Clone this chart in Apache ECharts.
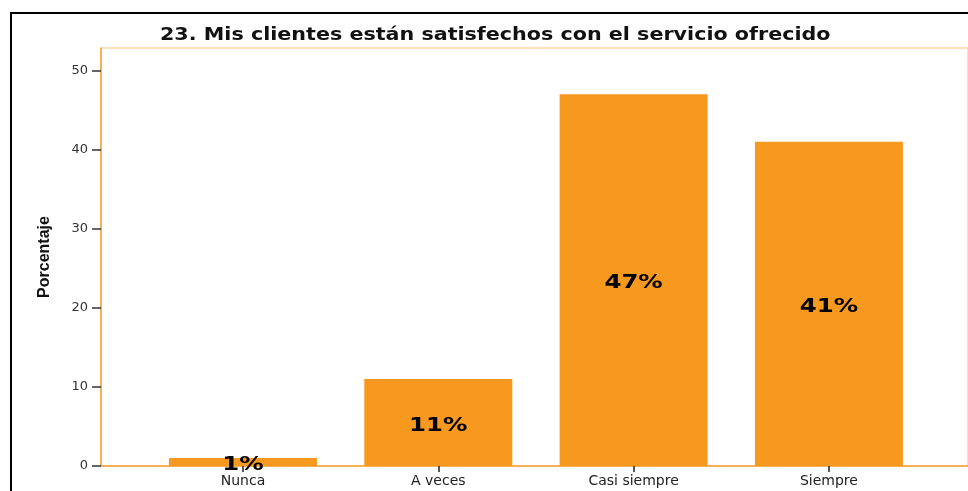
<!DOCTYPE html>
<html>
<head>
<meta charset="utf-8">
<script src="https://cdn.jsdelivr.net/npm/echarts@6/dist/echarts.min.js"></script>
<style>
  html, body { margin: 0; padding: 0; background: #fff; }
  #chart { width: 968px; height: 491px; }
</style>
</head>
<body>
<div id="chart"></div>
<script>
// Responses to item 23 (percentage of respondents)
const categories = ['Nunca', 'A veces', 'Casi siempre', 'Siempre'];
const percentages = [1, 11, 47, 41];
const yTicks = [0, 10, 20, 30, 40, 50];

const TITLE = '23. Mis clientes están satisfechos con el servicio ofrecido';
const Y_NAME = 'Porcentaje';

const BAR = '#F7991F';
const FRAME = '#F9C27C';
const AXIS = '#F5A030';
const FRAME_MAX = 52.84;   // frame top sits a little above the 50 tick

const chart = echarts.init(document.getElementById('chart'));

chart.setOption({
  animation: false,
  backgroundColor: '#fff',
  graphic: [
    {
      type: 'rect',
      shape: { x: 11, y: 13, width: 1200, height: 1000 },
      style: { fill: 'none', stroke: '#000', lineWidth: 2 },
      z: 100
    },
    {
      type: 'text',
      x: 160,
      y: 27,
      scaleX: 1.215,
      style: {
        text: TITLE,
        font: 'bold 17px "DejaVu Sans"',
        fill: '#111'
      },
      z: 100
    }
  ],
  grid: [
    // plot frame: orange border plus the y axis line and name
    { left: 101, top: 48, right: -10, bottom: 25, show: true, borderColor: FRAME, borderWidth: 1, containLabel: false },
    // bar area: scale runs 0..50 with 50 at the top
    { left: 145.3, width: 781.3, top: 70.5, bottom: 25, containLabel: false }
  ],
  xAxis: [
    {
      gridIndex: 0,
      type: 'category',
      data: categories,
      axisLine: { show: true, lineStyle: { color: AXIS, width: 1.5 } },
      axisTick: { show: false },
      axisLabel: { show: false },
      splitLine: { show: false }
    },
    {
      gridIndex: 1,
      type: 'category',
      data: categories,
      axisLine: { show: false },
      axisTick: { show: true, alignWithLabel: true, length: 6, lineStyle: { color: '#222', width: 1.5 } },
      axisLabel: { color: '#222', fontFamily: 'DejaVu Sans', fontSize: 14, margin: 8 },
      splitLine: { show: false }
    }
  ],
  yAxis: [
    {
      gridIndex: 0,
      type: 'value',
      min: 0,
      max: FRAME_MAX,
      name: Y_NAME,
      nameLocation: 'middle',
      nameGap: 48,
      nameTextStyle: { fontFamily: 'Liberation Sans', fontWeight: 'bold', fontSize: 16, color: '#111' },
      axisLine: { show: true, lineStyle: { color: AXIS, width: 1.5 } },
      axisTick: { show: false },
      axisLabel: { show: false },
      splitLine: { show: false }
    },
    {
      gridIndex: 1,
      type: 'value',
      min: 0,
      max: 50,
      interval: 10,
      offset: 44.3,
      axisLine: { show: false },
      axisTick: { show: true, inside: false, length: 9, lineStyle: { color: '#333', width: 1.5 } },
      axisLabel: {
        color: '#333',
        fontFamily: 'DejaVu Sans',
        fontSize: 13,
        margin: 13,
        formatter: v => (yTicks.indexOf(v) >= 0 ? String(v) : '')
      },
      splitLine: { show: false }
    }
  ],
  series: [
    {
      type: 'bar',
      xAxisIndex: 1,
      yAxisIndex: 1,
      data: percentages,
      barWidth: 148,
      itemStyle: { color: BAR }
    },
    {
      // percentage labels, centred in each bar and drawn slightly wide
      type: 'custom',
      xAxisIndex: 1,
      yAxisIndex: 1,
      data: percentages.map((v, i) => [i, v]),
      z: 10,
      renderItem: (params, api) => {
        const v = api.value(1);
        const pt = api.coord([api.value(0), v / 2]);
        return {
          type: 'text',
          x: pt[0],
          y: pt[1] + 3,
          scaleX: 1.22,
          style: {
            text: v + '%',
            font: 'bold 20px "DejaVu Sans"',
            fill: '#000',
            align: 'center',
            verticalAlign: 'middle'
          }
        };
      }
    }
  ]
});
</script>
</body>
</html>
